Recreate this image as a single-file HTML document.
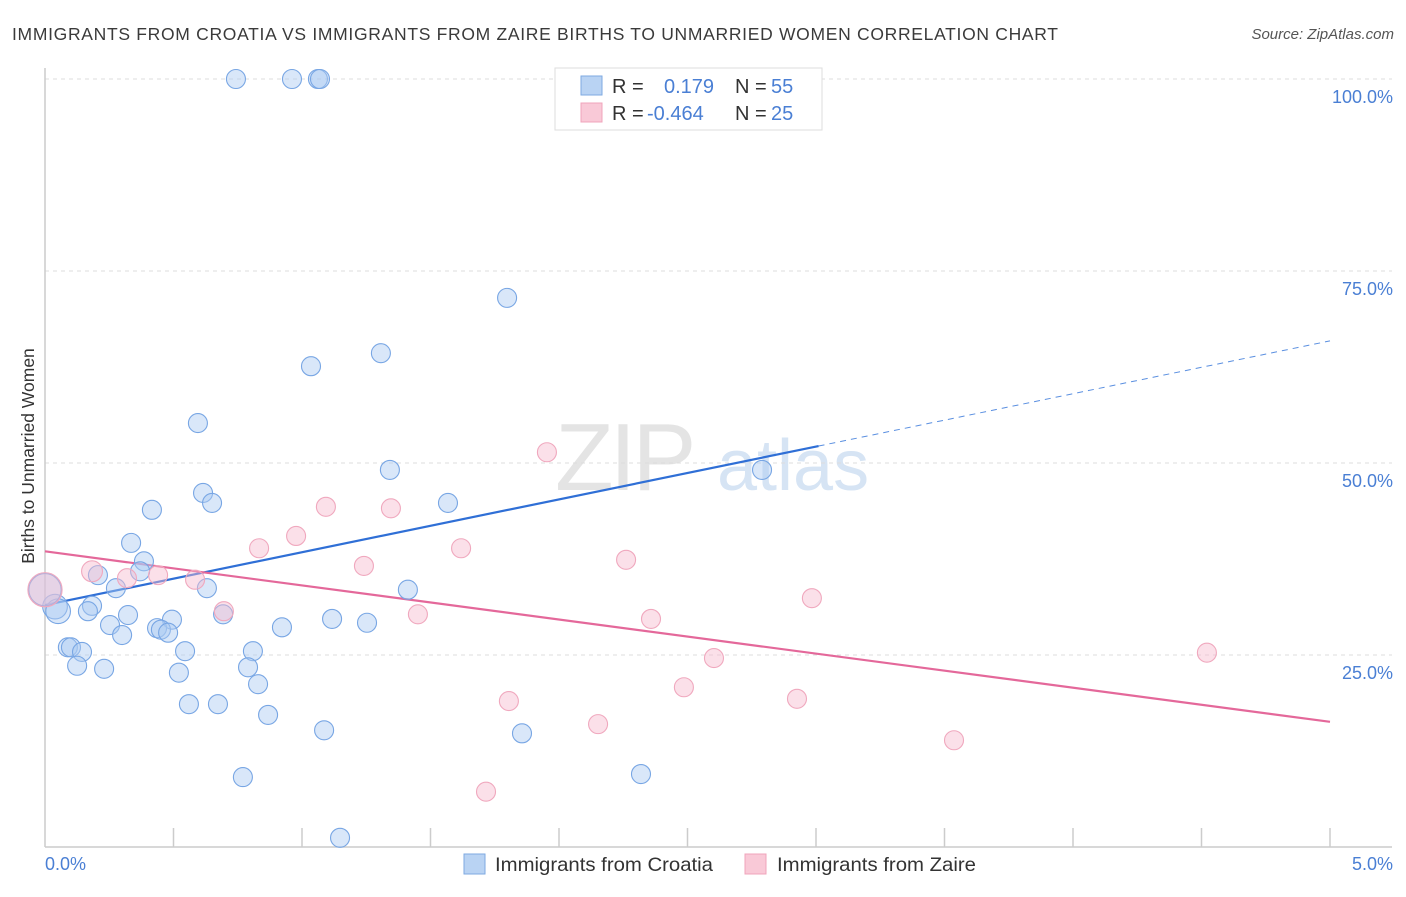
<!DOCTYPE html>
<html><head><meta charset="utf-8"><style>
body{margin:0;background:#fff;font-family:"Liberation Sans",sans-serif}
svg text{font-family:"Liberation Sans",sans-serif}
</style></head><body>
<svg id="chart" width="1406" height="892" viewBox="0 0 1406 892" xmlns="http://www.w3.org/2000/svg">
<text x="12" y="40" font-size="17.5" fill="#3a3a3a" textLength="1046" lengthAdjust="spacing">IMMIGRANTS FROM CROATIA VS IMMIGRANTS FROM ZAIRE BIRTHS TO UNMARRIED WOMEN CORRELATION CHART</text>
<text x="1394" y="39" font-size="15" fill="#555" text-anchor="end" font-style="italic">Source: ZipAtlas.com</text>
<text x="555" y="490" font-size="96" fill="#e4e4e4" font-family="Liberation Serif" letter-spacing="-4">ZIP</text>
<text x="717" y="490" font-size="72" fill="#d6e4f4">atlas</text>
<g id="grid"></g>
<line x1="45" y1="68" x2="45" y2="847" stroke="#ccc" stroke-width="1.5"/>
<line x1="45" y1="847" x2="1392" y2="847" stroke="#ccc" stroke-width="1.5"/>
<g id="ticks"></g>
<text transform="translate(34,456) rotate(-90)" font-size="17.5" fill="#333" text-anchor="middle">Births to Unmarried Women</text>
<text x="45" y="870" font-size="18" fill="#4a7fd4">0.0%</text>
<text x="1393" y="870" font-size="18" fill="#4a7fd4" text-anchor="end">5.0%</text>
<g id="lines"></g>
<g id="points"></g>
<g>
<rect x="555" y="68" width="267" height="62" fill="#fff" stroke="#ddd"/>
<rect x="581" y="76" width="21" height="19" fill="#b9d3f3" stroke="#7ea9e2"/>
<rect x="581" y="103" width="21" height="19" fill="#f9c9d7" stroke="#f0a4bb"/>
<text x="612" y="93" font-size="20" fill="#333">R =</text>
<text x="664" y="93" font-size="20" fill="#4a7fd4">0.179</text>
<text x="735" y="93" font-size="20" fill="#333">N =</text>
<text x="771" y="93" font-size="20" fill="#4a7fd4">55</text>
<text x="612" y="120" font-size="20" fill="#333">R =</text>
<text x="647" y="120" font-size="20" fill="#4a7fd4">-0.464</text>
<text x="735" y="120" font-size="20" fill="#333">N =</text>
<text x="771" y="120" font-size="20" fill="#4a7fd4">25</text>
</g>
<g>
<rect x="464" y="854" width="21" height="20" fill="#b9d3f3" stroke="#7ea9e2"/>
<text x="495" y="871" font-size="19.5" fill="#333" textLength="218" lengthAdjust="spacingAndGlyphs">Immigrants from Croatia</text>
</g>
<g>
<rect x="745" y="854" width="21" height="20" fill="#f9c9d7" stroke="#f0a4bb"/>
<text x="777" y="871" font-size="19.5" fill="#333" textLength="199" lengthAdjust="spacingAndGlyphs">Immigrants from Zaire</text>
</g>
</svg>
<script>
const yTicks=[25,50,75,100];
const yTickLabels=["25.0%","50.0%","75.0%","100.0%"];
const xTicks=[0.5,1,1.5,2,2.5,3,3.5,4,4.5,5];
const croatiaX=[0.743,0.961,1.062,1.070,1.798,1.035,1.307,0.595,1.342,0.615,0.650,0.416,1.568,2.790,0.335,0.385,0.370,0.206,0.276,0.630,1.412,0.183,0.167,0.039,0.051,0.323,0.494,1.117,1.253,0.693,0.253,0.436,0.451,0.479,0.300,0.922,0.089,0.101,0.144,0.545,0.809,0.125,0.230,0.790,0.521,0.829,0.560,0.673,0.868,1.086,1.856,0.770,2.319,1.148,0.0];
const croatiaY=[100,100,100,100,71.5,62.6,64.3,55.2,49.1,46.1,44.8,43.9,44.8,49.1,39.6,37.2,35.9,35.4,33.7,33.7,33.5,31.4,30.7,31.3,30.7,30.2,29.6,29.7,29.2,30.3,28.9,28.5,28.3,27.9,27.6,28.6,26.0,26.0,25.4,25.5,25.5,23.6,23.2,23.4,22.7,21.2,18.6,18.6,17.2,15.2,14.8,9.1,9.5,1.2,33.5];
const croatiaSize=[1,1,1,1,1,1,1,1,1,1,1,1,1,1,1,1,1,1,1,1,1,1,1,1.3,1.3,1,1,1,1,1,1,1,1,1,1,1,1,1,1,1,1,1,1,1,1,1,1,1,1,1,1,1,1,1,1.7];
const zaireX=[0,0.183,0.319,0.440,0.584,0.696,0.833,0.977,1.093,1.241,1.346,1.451,1.619,1.953,2.261,2.358,2.603,2.486,1.805,2.152,1.716,2.926,2.984,3.537,4.521];
const zaireY=[33.5,35.9,35.0,35.4,34.8,30.7,38.9,40.5,44.3,36.6,44.1,30.3,38.9,51.4,37.4,29.7,24.6,20.8,19.0,16.0,7.2,19.3,32.4,13.9,25.3];
const zaireSize=[1.8,1.1,1,1,1,1,1,1,1,1,1,1,1,1,1,1,1,1,1,1,1,1,1,1,1];
const croatiaTrend=[31.5,65.9];
const croatiaSolidEnd=3.01;
const zaireTrend=[38.5,16.3];
const NS="http://www.w3.org/2000/svg";
const sx=v=>45+v*257;
const sy=v=>847-v*7.68;
function mk(t,a,p){const e=document.createElementNS(NS,t);for(const k in a)e.setAttribute(k,a[k]);p.appendChild(e);return e;}
const grid=document.getElementById('grid');
yTicks.forEach((t,i)=>{
 const l=mk('line',{x1:45,x2:1392,y1:sy(t),y2:sy(t),stroke:'#ddd','stroke-dasharray':'4,4'},grid);
 
 
 const tx=mk('text',{x:1393,y:sy(t)+24,'font-size':18,fill:'#4a7fd4','text-anchor':'end'},grid);
 tx.textContent=yTickLabels[i];
 
 
});
const gt=document.getElementById('ticks');
xTicks.forEach(t=>{
 const l=mk('line',{x1:sx(t),x2:sx(t),y1:828,y2:847,stroke:'#ccc','stroke-width':1.5},gt);
 
 
});
const gl=document.getElementById('lines');
const ty=(tr,x)=>tr[0]+(tr[1]-tr[0])*x/5;
let a=mk('line',{x1:sx(0),y1:sy(ty(croatiaTrend,0)),x2:sx(croatiaSolidEnd),y2:sy(ty(croatiaTrend,croatiaSolidEnd)),stroke:'#2f6fd6','stroke-width':2.2},gl);


a=mk('line',{x1:sx(croatiaSolidEnd),y1:sy(ty(croatiaTrend,croatiaSolidEnd)),x2:sx(5),y2:sy(ty(croatiaTrend,5)),stroke:'#5a8fe0','stroke-width':1,'stroke-dasharray':'6,5'},gl);


a=mk('line',{x1:sx(0),y1:sy(ty(zaireTrend,0)),x2:sx(5),y2:sy(ty(zaireTrend,5)),stroke:'#e4689a','stroke-width':2.2},gl);


const gp=document.getElementById('points');
croatiaX.forEach((x,i)=>{
 const c=mk('circle',{cx:sx(x),cy:sy(croatiaY[i]),r:9.5*croatiaSize[i],fill:'rgba(170,202,242,0.45)',stroke:'#78a6e4','stroke-width':1.1},gp);
 
 
});
zaireX.forEach((x,i)=>{
 const c=mk('circle',{cx:sx(x),cy:sy(zaireY[i]),r:9.5*zaireSize[i],fill:'rgba(246,186,206,0.45)',stroke:'#f0a8be','stroke-width':1.1},gp);
 
 
});
</script>
</body></html>
